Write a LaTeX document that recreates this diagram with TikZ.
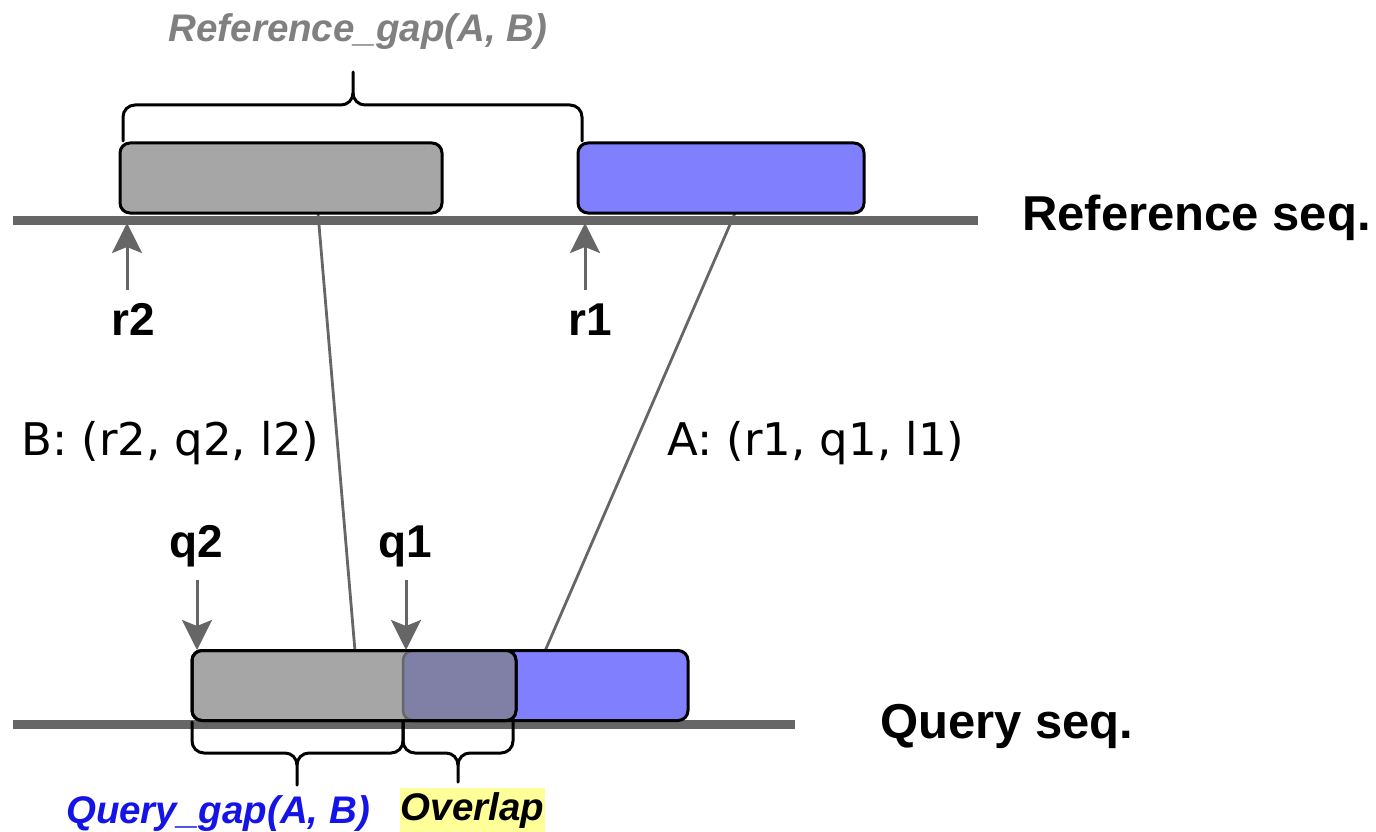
\documentclass[tikz,border=0pt]{standalone}
\usepackage{fontspec}
\setmainfont{Liberation Sans}
\newfontfamily\handfont{DejaVu Sans}
\usetikzlibrary{arrows.meta,calc}
\definecolor{seqgray}{HTML}{666666}
\definecolor{boxgray}{HTML}{A6A6A6}
\definecolor{boxblue}{HTML}{8080FF}
\definecolor{ovl}{HTML}{8080A6}
\definecolor{gaptext}{HTML}{808080}
\definecolor{qgaptext}{HTML}{1414E6}
\definecolor{hilite}{HTML}{FFFF99}
\tikzset{
  seqline/.style={draw=seqgray, line width=9pt},
  segbox/.style={draw=black, line width=3pt, rounded corners=10pt, inner sep=0pt, outer sep=0pt, minimum height=70pt},
  graybox/.style={segbox, fill=boxgray},
  bluebox/.style={segbox, fill=boxblue},
  alignline/.style={draw=seqgray, line width=2.8pt},
  posarrow/.style={draw=seqgray, line width=3pt, -{Stealth[length=30pt,width=30pt,inset=6pt]}},
  poslabel/.style={font=\bfseries\fontsize{46}{52}\selectfont, anchor=base, inner sep=0pt},
  seqlabel/.style={font=\bfseries\fontsize{49}{58}\selectfont, anchor=base west, inner sep=0pt},
  gaplabel/.style={font=\bfseries\itshape\fontsize{38.5}{44}\selectfont, anchor=base, inner sep=0pt},
  hitlabel/.style={font=\handfont\fontsize{45}{52}\selectfont, anchor=base west, inner sep=0pt},
  bracepath/.style={draw=black, line width=3pt, line cap=round},
}
\begin{document}
\begin{tikzpicture}[x=1pt,y=-1pt]
\useasboundingbox (0,0) rectangle (1376,832);

% alignment lines (behind everything)
\coordinate (bRef) at (318,213);
\coordinate (bQry) at (355,651);
\coordinate (aRef) at (735,213);
\coordinate (aQry) at (545,651);
\draw[alignline] (bRef) -- (bQry);
\draw[alignline] (aRef) -- (aQry);

% sequence lines
\coordinate (rsL) at (13,220);
\coordinate (rsR) at (978,220);
\coordinate (qsL) at (13,724);
\coordinate (qsR) at (795,724);
\draw[seqline] (rsL) -- (rsR);
\draw[seqline] (qsL) -- (qsR);

% reference boxes
\node[graybox, minimum width=322pt] (refB) at (281,178) {};
\node[bluebox, minimum width=286pt] (refA) at (721,178) {};

% query boxes
\node[bluebox, minimum width=285pt] (qA) at (545.5,685.5) {};
\node[graybox, minimum width=324pt] (qB) at (354,685.5) {};
\begin{scope}
  \clip[rounded corners=10pt] (qA.south west) rectangle (qA.north east);
  \fill[ovl, rounded corners=10pt] (qB.south west) rectangle (qB.north east);
\end{scope}
\draw[seqgray, line width=2.5pt, rounded corners=10pt] ($(qA.north west)+(12,0)$) -- (qA.north west) -- (qA.south west) -- ($(qA.south west)+(12,0)$);
\draw[black, line width=3pt, rounded corners=10pt] (qB.south west) rectangle (qB.north east);

% brace above reference
\coordinate (tbL) at (123,141);
\coordinate (tbR) at (582,141);
\coordinate (tbTip) at (353,72);
\draw[bracepath] (tbL) -- (123,117) to[out=90,in=180] (135,105) -- (341,105) to[out=0,in=-90] (353,93) -- (tbTip);
\draw[bracepath] (353,93) to[out=-90,in=180] (365,105) -- (570,105) to[out=0,in=90] (582,117) -- (tbR);

% braces below query
\coordinate (lbL) at (192,722);
\coordinate (lbR) at (403,722);
\coordinate (lbTip) at (297,785);
\draw[bracepath] (lbL) -- (192,741) to[out=-90,in=180] (204,753) -- (285,753) to[out=0,in=90] (297,765) -- (lbTip);
\draw[bracepath] (297,765) to[out=90,in=180] (309,753) -- (391,753) to[out=0,in=-90] (403,741) -- (lbR);
\coordinate (rbL) at (403,722);
\coordinate (rbR) at (513,722);
\coordinate (rbTip) at (458,782);
\draw[bracepath] (rbL) -- (403,741) to[out=-90,in=180] (415,753) -- (446,753) to[out=0,in=90] (458,765) -- (rbTip);
\draw[bracepath] (458,765) to[out=90,in=180] (470,753) -- (501,753) to[out=0,in=-90] (513,741) -- (rbR);

% position arrows
\coordinate (r2tail) at (127,290);
\coordinate (r2tip) at (127,223);
\coordinate (r1tail) at (585,290);
\coordinate (r1tip) at (585,223);
\coordinate (q2tail) at (197,580);
\coordinate (q2tip) at (197,650);
\coordinate (q1tail) at (406,580);
\coordinate (q1tip) at (406,650);
\draw[posarrow] (r2tail) -- (r2tip);
\draw[posarrow] (r1tail) -- (r1tip);
\draw[posarrow] (q2tail) -- (q2tip);
\draw[posarrow] (q1tail) -- (q1tip);

% labels
\node[poslabel] (r2) at (133,335) {r2};
\node[poslabel] (r1) at (590,335) {r1};
\node[poslabel] (q2) at (196,557) {q2};
\node[poslabel] (q1) at (405,557) {q1};
\node[seqlabel] (refseq) at (1022,230) {Reference seq.};
\node[seqlabel] (qryseq) at (880,738) {Query seq.};
\node[gaplabel, text=gaptext] (refgap) at (358,42) {Reference\_gap(A, B)};
\node[gaplabel, text=qgaptext] (qrygap) at (218,823) {Query\_gap(A, B)};
\node[gaplabel, fill=hilite, inner xsep=1pt, inner ysep=4pt] (ovlp) at (472.5,820) {Overlap};
\node[hitlabel] (hitB) at (21,455) {B: (r2, q2, l2)};
\node[hitlabel] (hitA) at (667,455) {A: (r1, q1, l1)};
\end{tikzpicture}
\end{document}
